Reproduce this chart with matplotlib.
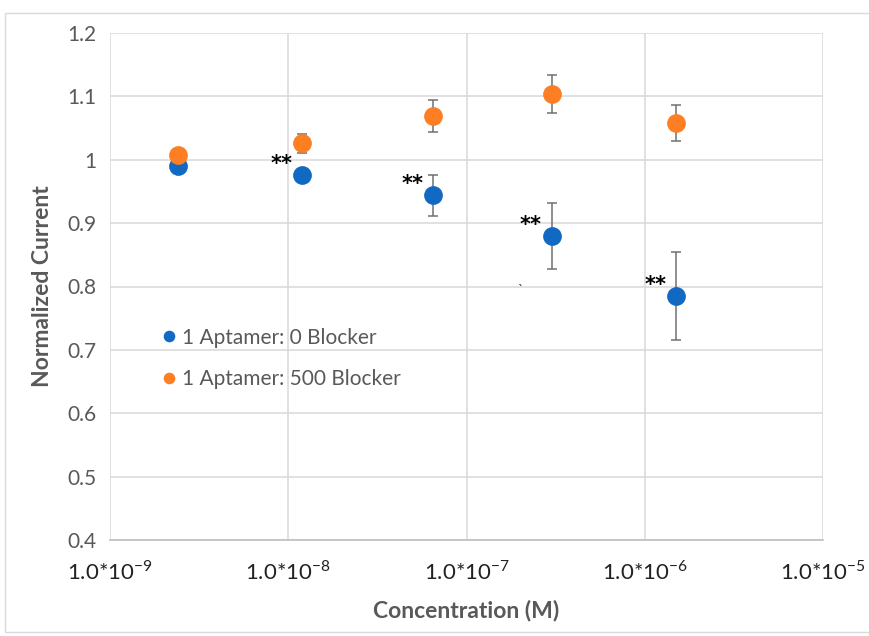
import numpy as np
import matplotlib
matplotlib.use("Agg")
import matplotlib.pyplot as plt
from matplotlib.patches import Rectangle

# data
conc = [2.4e-9, 1.2e-8, 6.5e-8, 3.0e-7, 1.5e-6]
blocker0 = [0.990, 0.976, 0.944, 0.879, 0.785]
blocker0_err = [0.004, 0.006, 0.032, 0.052, 0.069]
blocker500 = [1.008, 1.026, 1.069, 1.103, 1.058]
blocker500_err = [0.004, 0.015, 0.025, 0.030, 0.029]
stars = ['', '**', '**', '**', '**']
xtick_vals = [1e-9, 1e-8, 1e-7, 1e-6, 1e-5]
xtick_labels = [r'1.0*10$^{\mathregular{-%d}}$' % k for k in [9, 8, 7, 6, 5]]
ytick_vals = [0.4, 0.5, 0.6, 0.7, 0.8, 0.9, 1, 1.1, 1.2]

plt.rcParams['font.family'] = ['Lato', 'DejaVu Sans']

fig = plt.figure(figsize=(8.69, 6.36), dpi=100)
# outer chart frame
fig.patches.append(Rectangle((5/869, 4/636), 880/869, 619/636, transform=fig.transFigure,
                             fill=False, edgecolor='#d9d9d9', lw=1.0))
ax = fig.add_axes([110/869, 1-540/636, 713/869, 507/636])

blue = '#1169c4'
orange = '#fd7e23'
ax.errorbar(conc, blocker0, yerr=blocker0_err, fmt='none', ecolor='#707070', elinewidth=1.1,
            capsize=3.5, capthick=1.1, zorder=3)
ax.errorbar(conc, blocker500, yerr=blocker500_err, fmt='none', ecolor='#707070', elinewidth=1.1,
            capsize=3.5, capthick=1.1, zorder=3)
ax.plot(conc, blocker0, 'o', color=blue, ms=13.5, mec='none', zorder=4, label='1 Aptamer: 0 Blocker')
ax.plot(conc, blocker500, 'o', color=orange, ms=13.5, mec='none', zorder=4, label='1 Aptamer: 500 Blocker')

for x, y, s in zip(conc, blocker0, stars):
    if s:
        ax.annotate(s, (x, y), xytext=(-15, 8), textcoords='offset points', ha='center',
                    va='center', fontsize=15, fontweight='bold', color='black', family='DejaVu Sans')
# small stray tick mark in the original
ax.text(2.0e-7, 0.795, '`', fontsize=10, color='#333333', ha='center', va='center')

ax.set_xscale('log')
ax.set_xlim(1e-9, 1e-5)
ax.set_ylim(0.4, 1.2)
ax.set_xticks(xtick_vals)
ax.set_xticklabels(xtick_labels)
ax.minorticks_off()
ax.set_yticks(ytick_vals)
ax.set_yticklabels([('%g' % v) for v in ytick_vals])
ax.tick_params(length=0, labelsize=15, colors='#595959', pad=10)
ax.tick_params(axis='x', pad=14, labelcolor='#222222', labelsize=16)
ax.grid(True, color='#d9d9d9', lw=1.1)
ax.set_axisbelow(True)
for sp in ['top', 'right', 'left']:
    ax.spines[sp].set_visible(False)
ax.spines['bottom'].set_color('#bfbfbf')
ax.spines['bottom'].set_linewidth(1.2)

ax.set_xlabel('Concentration (M)', fontsize=16.5, fontweight='bold', color='#595959', labelpad=12)
ax.set_ylabel('Normalized Current', fontsize=16.5, fontweight='bold', color='#595959', labelpad=10)

leg = ax.legend(loc='center left', bbox_to_anchor=(0.06, 0.358), frameon=False, fontsize=15,
                markerscale=0.62, handlelength=0.6, handletextpad=0.3, labelspacing=1.05, borderpad=0)
for t in leg.get_texts():
    t.set_color('#595959')

fig.savefig('out.png', dpi=100)
